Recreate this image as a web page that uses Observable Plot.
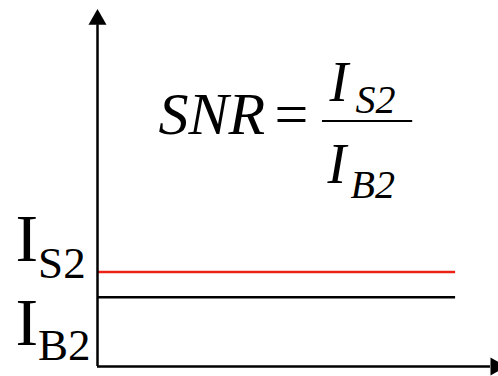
<!DOCTYPE html>
<html><head><meta charset="utf-8">
<script src="https://cdn.jsdelivr.net/npm/d3@7"></script>
<script src="https://cdn.jsdelivr.net/npm/@observablehq/plot@0.6"></script>
<style>html,body{margin:0;padding:0;background:#fff;overflow:hidden} svg{display:block}</style>
</head><body><div id="chart"></div>
<script>
// Series: signal and background intensity levels
const seriesKeys = ["S2", "B2"];
const seriesLevels = [2.58, 1.89];
const seriesColors = ["#ec2314", "#000000"];
const lineEnd = 8.93;
// Axes extents (data units)
const xAxisEnd = 9.8;
const yAxisEnd = 9.34;
// Formula annotation: fraction bar position
const formulaBarY = 6.71;
const formulaBarX = [5.61, 7.86];
const formulaParts = ["SNR", "=", "I", "S2", "I", "B2"];

const series = seriesKeys.map((k, i) => ({key: k, level: seriesLevels[i], color: seriesColors[i]}));
const serif = "'Liberation Serif', 'Times New Roman', serif";

const labelOffsets = {S2: {main: -11.5, sub: 5.5}, B2: {main: 47.5, sub: 62.5}};

const chart = Plot.plot({
  width: 498,
  height: 376,
  marginLeft: 97,
  marginRight: 0,
  marginTop: 0,
  marginBottom: 10,
  x: {domain: [0, 10], axis: null},
  y: {domain: [0, 10], axis: null},
  style: {background: "#fff", overflow: "visible"},
  marks: [
    // level lines
    Plot.ruleY(series, {y: "level", x1: 0, x2: lineEnd, stroke: "color", strokeWidth: 2.5}),
    // axes
    Plot.ruleX([0], {y1: 0, y2: yAxisEnd, stroke: "#000", strokeWidth: 2.5}),
    Plot.ruleY([0], {x1: 0, x2: xAxisEnd, stroke: "#000", strokeWidth: 2.5}),
    Plot.dot([{x: 0, y: yAxisEnd}], {x: "x", y: "y", symbol: "triangle", r: 6.7, fill: "#000", stroke: null, dy: -5.2}),
    Plot.dot([{x: xAxisEnd, y: 0}], {x: "x", y: "y", symbol: "triangle", r: 6.7, fill: "#000", stroke: null, rotate: 90, dx: 5.2}),
    // left labels
    ...series.map(s => Plot.text([s], {x: 0, y: "level", text: () => "I", dx: -82, dy: labelOffsets[s.key].main,
      textAnchor: "start", lineAnchor: "bottom", fontFamily: serif, fontSize: 68, fill: "#000"})),
    ...series.map(s => Plot.text([s], {x: 0, y: "level", text: "key", dx: -59.4, dy: labelOffsets[s.key].sub,
      textAnchor: "start", lineAnchor: "bottom", fontFamily: serif, fontSize: 45, fill: "#000"})),
    // formula
    Plot.ruleY([formulaBarY], {x1: formulaBarX[0], x2: formulaBarX[1], stroke: "#000", strokeWidth: 2}),
    Plot.text([formulaParts[0]], {x: formulaBarX[0], y: formulaBarY, text: d => d, dx: -164, dy: 13.5, textAnchor: "start", lineAnchor: "bottom", fontFamily: serif, fontStyle: "italic", fontSize: 60}),
    Plot.text([formulaParts[1]], {x: formulaBarX[0], y: formulaBarY, text: d => d, dx: -48, dy: 13.5, textAnchor: "start", lineAnchor: "bottom", fontFamily: serif, fontSize: 60}),
    Plot.text([formulaParts[2]], {x: formulaBarX[0], y: formulaBarY, text: d => d, dx: 7, dy: -19.5, textAnchor: "start", lineAnchor: "bottom", fontFamily: serif, fontStyle: "italic", fontSize: 56}),
    Plot.text([formulaParts[3]], {x: formulaBarX[0], y: formulaBarY, text: d => d, dx: 33, dy: -7.5, textAnchor: "start", lineAnchor: "bottom", fontFamily: serif, fontStyle: "italic", fontSize: 40}),
    Plot.text([formulaParts[4]], {x: formulaBarX[0], y: formulaBarY, text: d => d, dx: 5, dy: 62.5, textAnchor: "start", lineAnchor: "bottom", fontFamily: serif, fontStyle: "italic", fontSize: 56}),
    Plot.text([formulaParts[5]], {x: formulaBarX[0], y: formulaBarY, text: d => d, dx: 28, dy: 77.5, textAnchor: "start", lineAnchor: "bottom", fontFamily: serif, fontStyle: "italic", fontSize: 40})
  ]
});
document.getElementById("chart").append(chart);
</script>
</body></html>
